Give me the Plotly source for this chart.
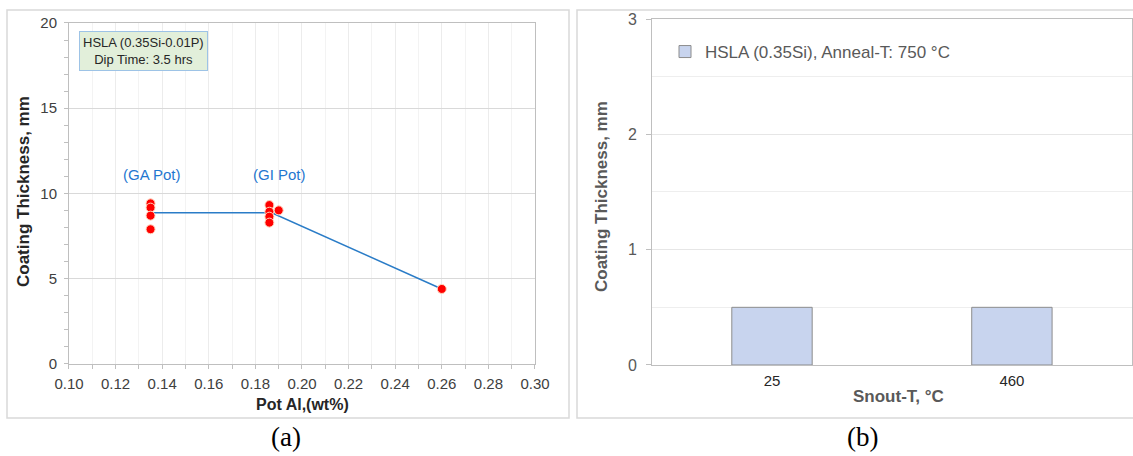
import plotly.graph_objects as go

# ---- data (a) ----
ga_x = [0.135, 0.135, 0.135, 0.135]
ga_y = [9.42, 9.17, 8.70, 7.90]
gi_x = [0.186, 0.186, 0.186, 0.186, 0.190]
gi_y = [9.32, 8.93, 8.64, 8.29, 9.01]
hi_x = [0.26]
hi_y = [4.4]
avg_x = [0.135, 0.187, 0.26]
avg_y = [8.87, 8.87, 4.4]
box_text = "HSLA (0.35Si-0.01P)<br>Dip Time: 3.5 hrs"

# ---- data (b) ----
snout_t = ["25", "460"]
thick_b = [0.5, 0.5]
legend_b = "HSLA (0.35Si), Anneal-T: 750 °C"

FONT = "Liberation Sans, Arial, sans-serif"
TXT = "#404040"
TXT2 = "#595959"
SERIF = "Liberation Serif, Times New Roman, serif"

fig = go.Figure()

fig.add_trace(go.Scatter(x=avg_x, y=avg_y, mode="lines",
                         line=dict(color="#2a7cc7", width=1.5),
                         xaxis="x", yaxis="y", showlegend=False))
pts_x = ga_x + gi_x + hi_x
pts_y = ga_y + gi_y + hi_y
fig.add_trace(go.Scatter(x=pts_x, y=pts_y, mode="markers",
                         marker=dict(color="#ff0000", size=9,
                                     line=dict(color="#ffd9c0", width=1)),
                         xaxis="x", yaxis="y", showlegend=False))

fig.add_trace(go.Bar(x=snout_t, y=thick_b, name=legend_b,
                     marker=dict(color="#c8d4ee", line=dict(color="#8c8c8c", width=1)),
                     xaxis="x2", yaxis="y2", showlegend=True))

fig.update_layout(
    template="none",
    width=1133, height=456,
    margin=dict(l=0, r=0, t=0, b=0, pad=0),
    paper_bgcolor="white", plot_bgcolor="white",
    font=dict(family=FONT, color=TXT, size=14),
    bargap=0.665,
    legend=dict(x=665/1133, y=1-52/456, xanchor="left", yanchor="middle",
                bgcolor="rgba(0,0,0,0)", font=dict(size=17, color=TXT2, family=FONT),
                itemwidth=30, tracegroupgap=0),
    xaxis=dict(domain=[0.0609, 0.4722], range=[0.10, 0.30], dtick=0.02, tick0=0.10,
               tickformat=".2f", showgrid=True, gridcolor="#ececec", gridwidth=1,
               minor=dict(dtick=0.01, showgrid=True, gridcolor="#f3f3f3",
                          ticks="outside", ticklen=4, tickcolor="#bfbfbf"),
               ticks="outside", ticklen=4, tickcolor="#bfbfbf",
               showline=True, linecolor="#bfbfbf", linewidth=1, mirror=True,
               zeroline=False, tickfont=dict(size=15, color=TXT), anchor="y",
               ticklabelstandoff=2, automargin=False),
    yaxis=dict(domain=[0.2018, 0.9496], range=[0, 20], dtick=5,
               showgrid=True, gridcolor="#d9d9d9",
               minor=dict(dtick=1, ticks="outside", ticklen=4, tickcolor="#bfbfbf",
                          showgrid=False),
               ticks="outside", ticklen=4, tickcolor="#bfbfbf",
               showline=True, linecolor="#bfbfbf", linewidth=1, mirror=True,
               zeroline=False, tickfont=dict(size=15, color=TXT), anchor="x",
               ticklabelstandoff=4, automargin=False),
    xaxis2=dict(domain=[0.5755, 0.999], type="category",
                showgrid=False, showline=True, linecolor="#bfbfbf", mirror=True,
                ticks="", tickfont=dict(size=15, color="#262626"), anchor="y2",
                ticklabelstandoff=2, automargin=False),
    yaxis2=dict(domain=[0.1996, 0.9583], range=[0, 3], dtick=1,
                showgrid=True, gridcolor="#e6e6e6",
                minor=dict(dtick=0.5, showgrid=True, gridcolor="#eeeeee"),
                ticks="outside", ticklen=5, tickcolor="#bfbfbf",
                showline=True, linecolor="#bfbfbf", mirror=True,
                zeroline=False, tickfont=dict(size=16, color=TXT2), anchor="x2",
                ticklabelstandoff=6, automargin=False),
)

# panel borders
fig.add_shape(type="rect", xref="paper", yref="paper",
              x0=7/1133, x1=569/1133, y0=1-418/456, y1=1-10/456,
              line=dict(color="#d9d9d9", width=1.5))
fig.add_shape(type="rect", xref="paper", yref="paper",
              x0=577/1133, x1=1.01, y0=1-418/456, y1=1-10/456,
              line=dict(color="#d9d9d9", width=1.5))

def pa(x, y, text, size, color, family=FONT, angle=0, **kw):
    return dict(x=x/1133, y=1-y/456, xref="paper", yref="paper", text=text,
                showarrow=False, xanchor="center", yanchor="middle", textangle=angle,
                font=dict(size=size, color=color, family=family), **kw)

ann = []
ann.append(pa(143, 51, box_text, 13, "#262626", align="center",
              bgcolor="#e2efda", bordercolor="#9dc3e6", borderwidth=1, borderpad=3))
ann.append(dict(x=0.1355, y=11.1, xref="x", yref="y", text="(GA Pot)", showarrow=False,
                font=dict(size=15, color="#1f77d0", family=FONT)))
ann.append(dict(x=0.1905, y=11.1, xref="x", yref="y", text="(GI Pot)", showarrow=False,
                font=dict(size=15, color="#1f77d0", family=FONT)))
# axis titles
ann.append(pa(23, 192, "<b>Coating Thickness, mm</b>", 17, "#262626", angle=-90))
ann.append(pa(302, 404, "<b>Pot Al,(wt%)</b>", 16, "#262626"))
ann.append(pa(601, 197, "<b>Coating Thickness, mm</b>", 17, TXT2, angle=-90))
ann.append(pa(898, 396, "<b>Snout-T, °C</b>", 17, TXT2))
# captions
ann.append(pa(286, 437, "(a)", 27, "black", family=SERIF))
ann.append(pa(862, 437, "(b)", 27, "black", family=SERIF))
fig.update_layout(annotations=ann)

fig.write_html("out.html", config={"displayModeBar": False},
               post_script="document.body.style.margin='0';")
